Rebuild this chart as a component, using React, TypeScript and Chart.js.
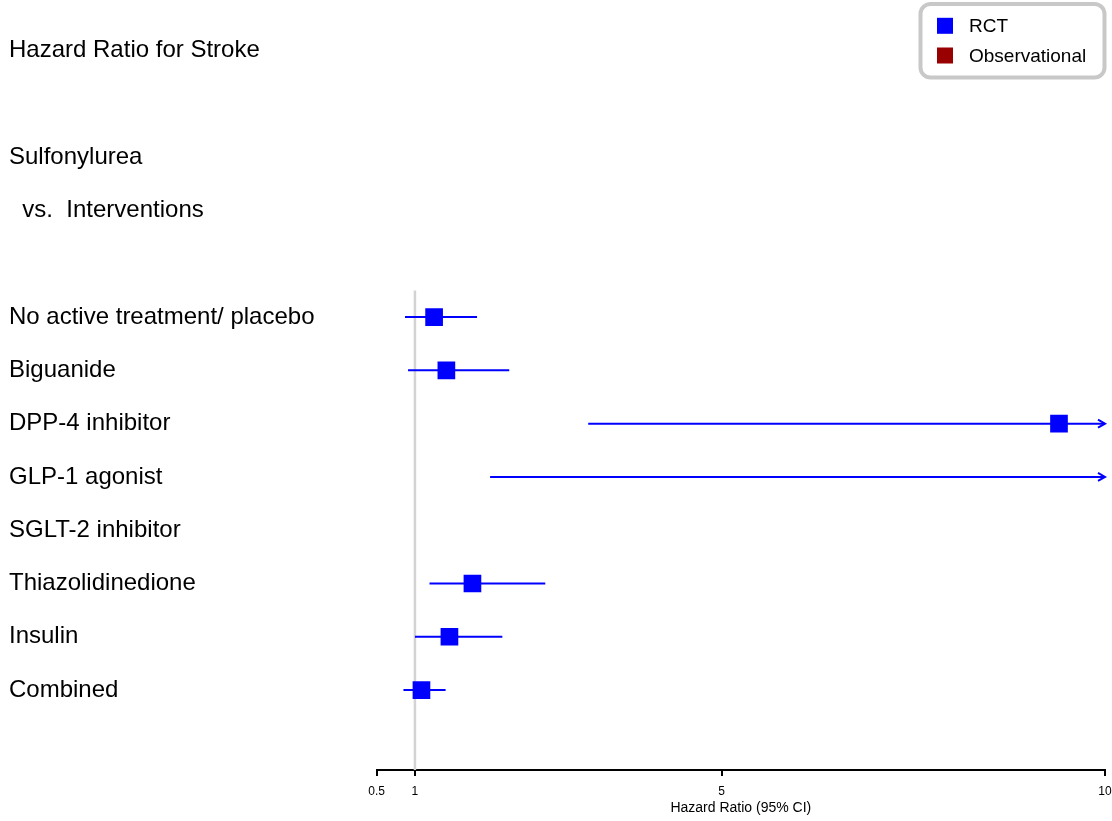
import React, { useEffect, useRef } from "react";
import { Chart, registerables } from "chart.js";

Chart.register(...registerables);

const headerLabels = ["Hazard Ratio for Stroke", "", "Sulfonylurea", "  vs.  Interventions", ""];
const categories = [
  "No active treatment/ placebo",
  "Biguanide",
  "DPP-4 inhibitor",
  "GLP-1 agonist",
  "SGLT-2 inhibitor",
  "Thiazolidinedione",
  "Insulin",
  "Combined",
];
const hazardRatio: (number | null)[] = [1.25, 1.41, 9.4, null, null, 1.75, 1.45, 1.085];
const lowerCI: (number | null)[] = [0.87, 0.91, 3.26, 1.98, null, 1.19, 1.0, 0.85];
const upperCI: (number | null)[] = [1.81, 2.23, 20, 20, null, 2.7, 2.14, 1.4];
const xTicks = [0.5, 1, 5, 10];
const xMin = 0.5;
const xMax = 10;
const referenceValue = 1;
const legendLabels = ["RCT", "Observational"];
const legendColors = ["#0000ff", "#990000"];

const allLabels = [...headerLabels, ...categories];
const FONT = 'Arial, "Liberation Sans", sans-serif';
const RIGHT_GAP = 7;

const arrowPlugin = {
  id: "ciArrows",
  afterDatasetsDraw(chart: any) {
    const xs = chart.scales.x;
    const ys = chart.scales.y;
    const ctx = chart.ctx;
    categories.forEach((_, i) => {
      const up = upperCI[i];
      if (up == null || up <= xs.max) return;
      const py = ys.getPixelForValue(headerLabels.length + i);
      const px = xs.getPixelForValue(xs.max);
      ctx.save();
      ctx.strokeStyle = "#0000ff";
      ctx.lineWidth = 2;
      ctx.beginPath();
      ctx.moveTo(px - 7, py - 4);
      ctx.lineTo(px, py);
      ctx.lineTo(px - 7, py + 4);
      ctx.stroke();
      ctx.restore();
    });
  },
};

const fixRightPlugin = {
  id: "fixRight",
  afterLayout(chart: any) {
    const target = chart.width - RIGHT_GAP;
    const xs = chart.scales.x;
    if (Math.abs(chart.chartArea.right - target) < 0.5) return;
    chart.chartArea.right = target;
    chart.chartArea.width = target - chart.chartArea.left;
    xs.right = target;
    xs.width = target - xs.left;
    xs.configure();
  },
};

const legendPlugin = {
  id: "boxLegend",
  afterDraw(chart: any) {
    const ctx = chart.ctx;
    ctx.save();
    ctx.strokeStyle = "#c8c8c8";
    ctx.lineWidth = 4;
    ctx.beginPath();
    (ctx as any).roundRect(920.5, 4, 184, 73.5, 10);
    ctx.stroke();
    ctx.font = `19px ${FONT}`;
    ctx.textBaseline = "middle";
    ctx.textAlign = "left";
    legendLabels.forEach((lab, i) => {
      const cy = 25.8 + i * 29.7;
      ctx.fillStyle = legendColors[i];
      ctx.fillRect(937, cy - 8, 16, 16);
      ctx.fillStyle = "#000";
      ctx.fillText(lab, 969, cy + 1);
    });
    ctx.restore();
  },
};

export default function App() {
  const ref = useRef<HTMLCanvasElement | null>(null);
  useEffect(() => {
    if (!ref.current) return;
    const ciData: any[] = [];
    categories.forEach((_, i) => {
      const lo = lowerCI[i];
      const hi = upperCI[i];
      if (lo == null || hi == null) return;
      const row = headerLabels.length + i;
      ciData.push({ x: lo, y: row }, { x: hi, y: row }, { x: NaN, y: NaN });
    });
    const pointData: any[] = [];
    categories.forEach((_, i) => {
      const v = hazardRatio[i];
      if (v == null) return;
      pointData.push({ x: v, y: headerLabels.length + i });
    });
    const refData = [
      { x: referenceValue, y: headerLabels.length - 0.5 },
      { x: referenceValue, y: allLabels.length + 0.5 },
    ];
    const chart = new Chart(ref.current, {
      type: "scatter",
      data: {
        datasets: [
          {
            label: "RCT",
            data: pointData,
            pointStyle: "rect",
            pointRadius: 12.5,
            pointHoverRadius: 12.5,
            backgroundColor: "#0000ff",
            borderWidth: 0,
            order: 1,
          } as any,
          {
            label: "CI",
            data: ciData,
            showLine: true,
            spanGaps: false,
            borderColor: "#0000ff",
            borderWidth: 2,
            pointRadius: 0,
            order: 2,
          } as any,
          {
            label: "ref",
            data: refData,
            showLine: true,
            borderColor: "#d3d3d3",
            borderWidth: 2.5,
            pointRadius: 0,
            order: 3,
          } as any,
        ],
      },
      options: {
        responsive: false,
        animation: false,
        layout: { padding: { left: 9, right: RIGHT_GAP, top: 24, bottom: 0 } },
        plugins: { legend: { display: false }, tooltip: { enabled: false } },
        scales: {
          x: {
            type: "linear",
            min: xMin,
            max: xMax,
            afterBuildTicks: (s: any) => {
              s.ticks = xTicks.map((v) => ({ value: v }));
            },
            afterFit: (s: any) => {
              s.height = 51;
              s.paddingLeft = 0;
              s.paddingRight = 0;
            },
            afterUpdate: (s: any) => {
              s.paddingLeft = 0;
              s.paddingRight = 0;
            },
            grid: {
              drawOnChartArea: false,
              drawTicks: true,
              tickLength: 6,
              color: "#000",
              lineWidth: 2,
            },
            border: { display: true, color: "#000", width: 2 },
            ticks: {
              padding: 8,
              color: "#000",
              autoSkip: false,
              maxRotation: 0,
              font: { size: 12, family: FONT },
              callback: (v: any) => String(v),
            },
            title: {
              display: true,
              text: "Hazard Ratio (95% CI)",
              color: "#000",
              font: { size: 14, family: FONT },
              padding: { top: 0, bottom: 4 },
            },
          },
          y: {
            type: "linear",
            reverse: true,
            min: -0.5,
            max: allLabels.length + 0.5,
            afterBuildTicks: (s: any) => {
              s.ticks = allLabels.map((_, i) => ({ value: i }));
            },
            afterFit: (s: any) => {
              s.width = 367.6;
            },
            grid: { display: false },
            border: { display: false },
            ticks: {
              autoSkip: false,
              crossAlign: "far",
              padding: 0,
              color: "#000",
              font: { size: 24, family: FONT },
              callback: (v: any) => allLabels[v] ?? "",
            },
          },
        },
      } as any,
      plugins: [fixRightPlugin, arrowPlugin, legendPlugin],
    });
    return () => chart.destroy();
  }, []);
  return (
    <div style={{ position: "absolute", left: 0, top: 0, width: 1112, height: 821, background: "#fff" }}>
      <canvas ref={ref} width={1112} height={821} style={{ display: "block" }} />
    </div>
  );
}
